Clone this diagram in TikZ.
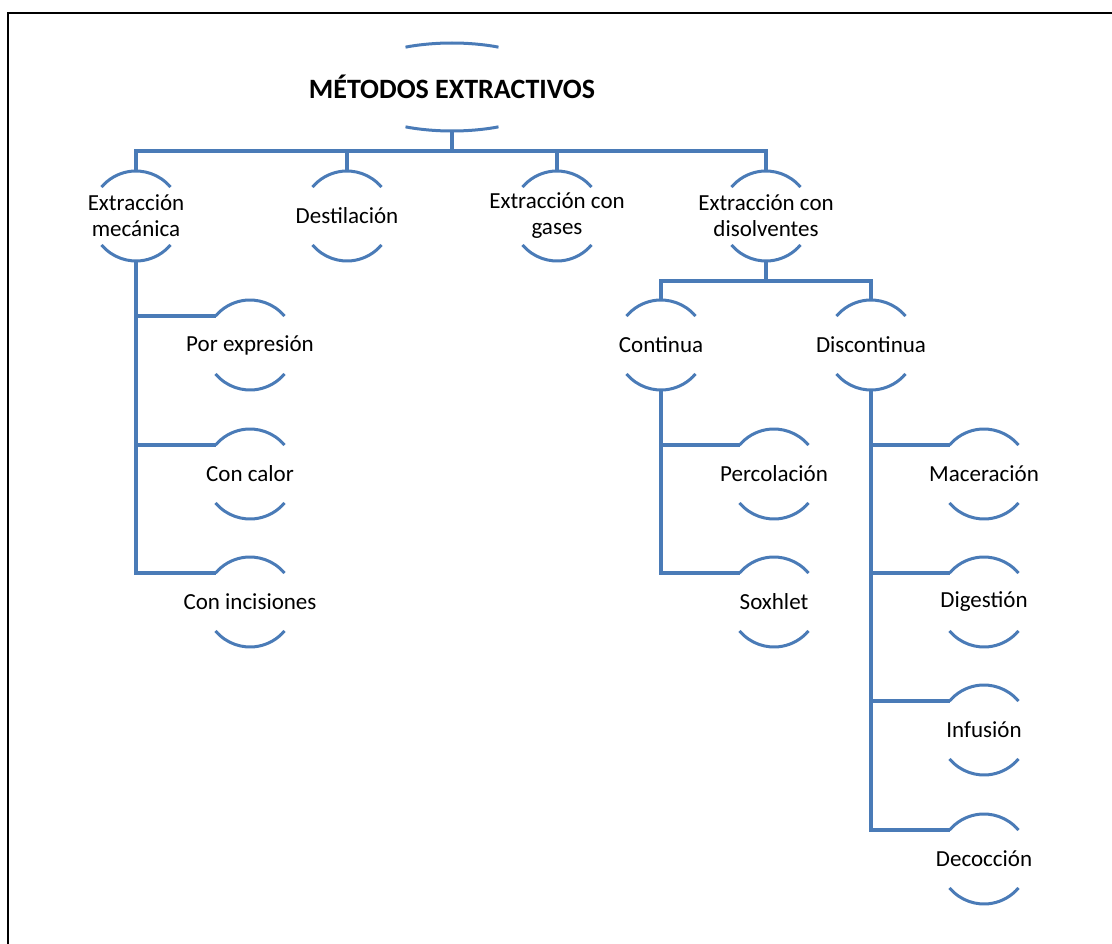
\documentclass[tikz,border=0pt]{standalone}
\usepackage{fontspec}
\setmainfont{Carlito}
\usetikzlibrary{shapes.geometric}
\definecolor{smartblue}{HTML}{4A7BB7}

\begin{document}
\begin{tikzpicture}[x=1pt,y=1pt,
    cap/.style={circle,minimum size=90pt,inner sep=0pt,outer sep=0pt,
      label={[align=center,font=\fontsize{23}{26}\selectfont]center:{#1}}},
    link/.style={draw=smartblue,line width=3.2pt},
    rim/.style={draw=smartblue,line width=3pt}]
  \useasboundingbox (0,0) rectangle (1112,-944);
  \draw[line width=2.4pt] (8,-944) -- (8,-13) -- (1112,-13);

  \node (root) [ellipse,minimum width=220pt,minimum height=88pt,inner sep=0pt,outer sep=0pt,
    label={[font=\bfseries\fontsize{28}{32}\selectfont]center:MÉTODOS EXTRACTIVOS}] at (452,-87) {};
  \draw[rim] ([shift={(65:110pt and 44pt)}]root.center) arc[start angle=65,end angle=115,x radius=110pt,y radius=44pt];
  \draw[rim] ([shift={(245:110pt and 44pt)}]root.center) arc[start angle=245,end angle=295,x radius=110pt,y radius=44pt];

  \node (mec) [cap={Extracción\\mecánica}] at (136,-216) {};
  \node (dest) [cap=Destilación] at (347,-216) {};
  \node (gas) [cap={Extracción con\\gases}] at (557,-216) {};
  \node (dis) [cap={Extracción con\\disolventes}] at (766,-216) {};

  \node (expr) [cap=Por expresión] at (250,-345) {};
  \node (calor) [cap=Con calor] at (250,-474) {};
  \node (inc) [cap=Con incisiones] at (250,-602) {};

  \node (cont) [cap=Continua] at (661,-345) {};
  \node (disc) [cap=Discontinua] at (871,-345) {};

  \node (perc) [cap=Percolación] at (774,-474) {};
  \node (sox) [cap=Soxhlet] at (774,-602) {};

  \node (mac) [cap=Maceración] at (984,-474) {};
  \node (dig) [cap=Digestión] at (984,-602) {};
  \node (inf) [cap=Infusión] at (984,-730) {};
  \node (deco) [cap=Decocción] at (984,-859) {};

  \foreach \n in {mec,dest,gas,dis,expr,calor,inc,cont,disc,perc,sox,mac,dig,inf,deco} {
    \draw[rim] (\n.40) arc[start angle=40,end angle=140,radius=45pt];
    \draw[rim] (\n.220) arc[start angle=220,end angle=320,radius=45pt];
  }

  \draw[link] (root.south) -- ++(0,-20) coordinate (bus1);
  \draw[link] (mec.north) |- (bus1) -| (dis.north);
  \draw[link] (dest.north) -- (dest.north |- bus1);
  \draw[link] (gas.north) -- (gas.north |- bus1);

  \draw[link] (dis.south) -- ++(0,-20) coordinate (bus2);
  \draw[link] (cont.north) |- (bus2) -| (disc.north);

  \foreach \c in {expr,calor,inc} \draw[link] (mec.south) |- (\c.140);
  \foreach \c in {perc,sox} \draw[link] (cont.south) |- (\c.140);
  \foreach \c in {mac,dig,inf,deco} \draw[link] (disc.south) |- (\c.140);
\end{tikzpicture}
\end{document}
